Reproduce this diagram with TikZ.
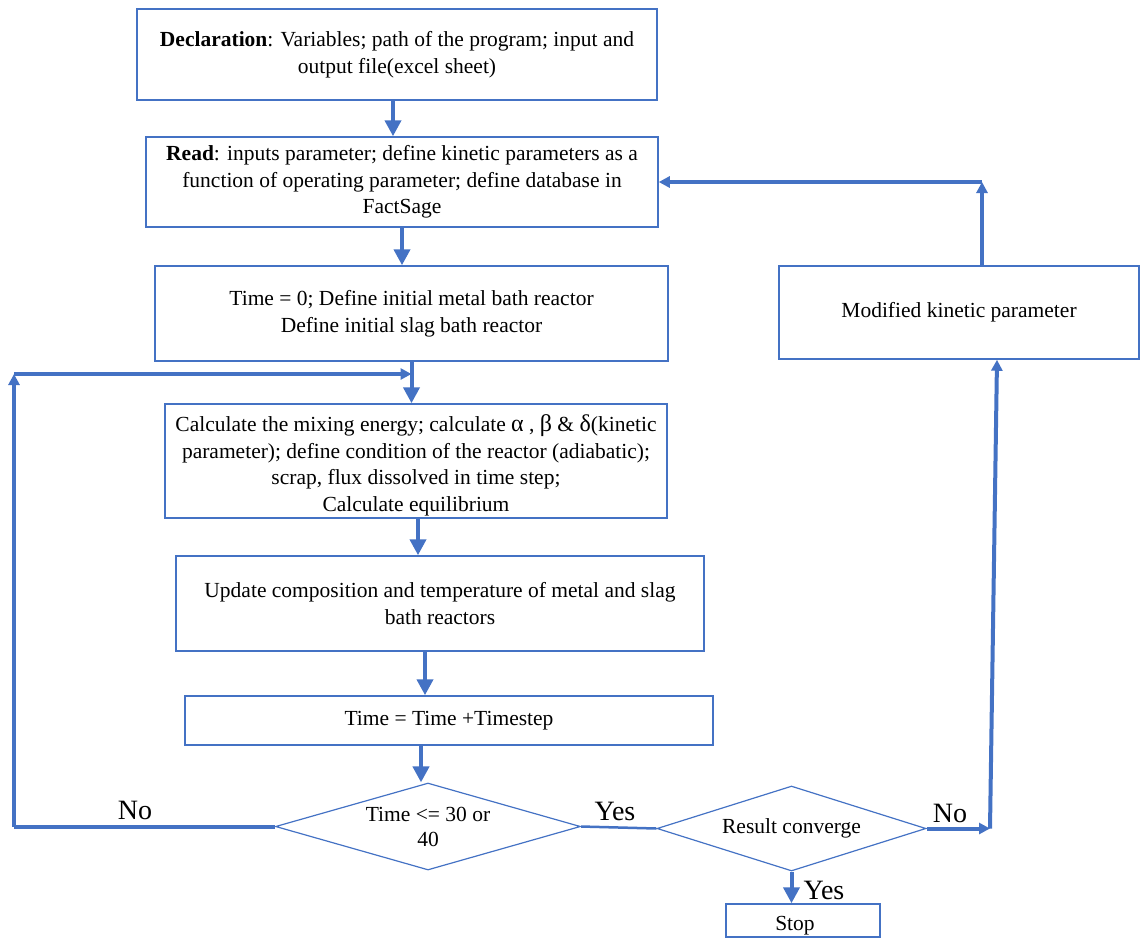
\documentclass[tikz,border=0pt]{standalone}
\usepackage{fontspec}
\setmainfont{Liberation Serif}
\usetikzlibrary{shapes.geometric,arrows.meta,calc}
\definecolor{bl}{HTML}{4472C4}
\newcommand{\gk}[1]{{\fontsize{24}{26}\selectfont #1}}
\begin{document}
\begin{tikzpicture}[x=1pt,y=-1pt,
 box/.style={draw=bl,line width=1.5pt,align=center,font=\fontsize{21.5}{26.5}\selectfont,inner sep=0pt},
 dia/.style={draw=bl,line width=1.2pt,diamond,align=center,font=\fontsize{21.5}{25}\selectfont,inner sep=0pt},
 arr/.style={draw=bl,line width=4pt,-{Triangle[width=16pt,length=16pt]}},
 arrs/.style={draw=bl,line width=4pt,-{Triangle[width=11pt,length=11pt]}},
 ln/.style={draw=bl,line width=4pt},
 lab/.style={font=\fontsize{28}{30}\selectfont}]
\useasboundingbox (0,0) rectangle (1140,938);
\node[box,minimum width=520pt,minimum height=91pt] (decl) at (397,54.5)
 {\textbf{Declaration}: Variables; path of the program; input and\\output file(excel sheet)};
\node[box,minimum width=512pt,minimum height=90pt] (read) at (402,182)
 {\textbf{Read}: inputs parameter; define kinetic parameters as a\\function of operating parameter; define database in\\FactSage};
\node[box,minimum width=513pt,minimum height=95pt] (t0) at (411.5,313.5)
 {Time = 0; Define initial metal bath reactor\\Define initial slag bath reactor};
\node[box,minimum width=502pt,minimum height=114pt] (calc) at (416,461)
 {\rule{0pt}{26pt}Calculate the mixing energy; calculate \gk{α} , \gk{β} \& \gk{δ}(kinetic\\parameter); define condition of the reactor (adiabatic);\\scrap, flux dissolved in time step;\\Calculate equilibrium};
\node[box,minimum width=528pt,minimum height=95pt] (upd) at (440,603.5)
 {Update composition and temperature of metal and slag\\bath reactors};
\node[box,minimum width=528pt,minimum height=49pt] (step) at (449,720.5)
 {Time = Time +Timestep};
\node[dia,aspect=3.5,minimum width=305pt,minimum height=87pt] (d1) at (428,826.5)
 {Time <= 30 or\\40};
\node[dia,aspect=3.2,minimum width=269pt,minimum height=85pt] (d2) at (791.5,828.5)
 {Result converge};
\node[box,minimum width=154pt,minimum height=33pt] (stop) at (803,920.5) {\rule{0pt}{24pt}Stop\hspace*{16pt}};
\node[box,minimum width=360pt,minimum height=93pt] (mod) at (959,312.5)
 {Modified kinetic parameter};

\draw[arr] ([xshift=-4pt]decl.south) -- ([xshift=-4pt]decl.south |- read.north);
\draw[arr] (read.south) -- (read.south |- t0.north);
\draw[arr] (t0.south) -- (t0.south |- calc.north);
\draw[arr] ([xshift=2pt]calc.south) -- ([xshift=2pt]calc.south |- upd.north);
\draw[arr] ([xshift=-15pt]upd.south) -- ([xshift=-15pt]upd.south |- step.north);
\draw[arr] ([xshift=-28pt]step.south) -- ([xshift=-28pt]step.south |- d1.north);

\coordinate (lc) at (14,826.5);
\coordinate (lt) at (14,374);
\coordinate (lj) at (t0.south |- lt);
\draw[ln] (d1.west) -- (lc);
\draw[arrs] (lc) -- (lt);
\draw[arrs] (lt) -- (lj);

\draw[bl,line width=2.5pt] (d1.east) -- (d2.west);

\coordinate (rc) at (990,828.5);
\draw[arrs] (d2.east) -- (rc);
\draw[arrs] (rc) -- ([xshift=38pt]mod.south);
\coordinate (rt) at (982,182);
\draw[arrs] ([xshift=23pt]mod.north) -- (rt);
\draw[arrs] (rt) -- (read.east);

\draw[arr] (d2.south) -- (d2.south |- stop.north);

\node[lab] (no1) at (135,810) {No};
\node[lab] (yes1) at (615,811) {Yes};
\node[lab] (no2) at (950,813) {No};
\node[lab] (yes2) at (824,890) {Yes};
\end{tikzpicture}
\end{document}
